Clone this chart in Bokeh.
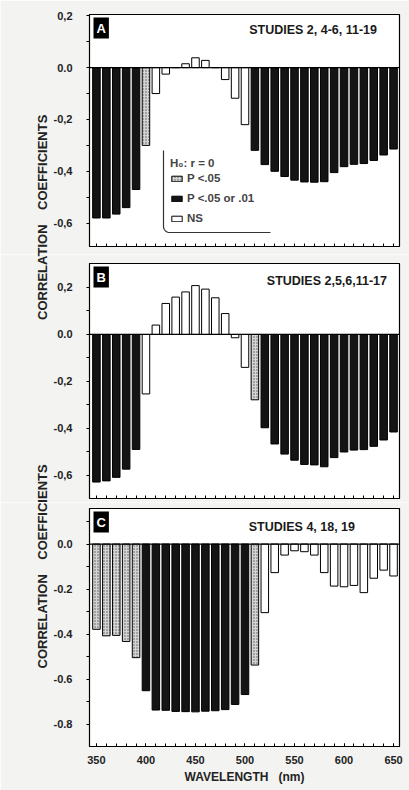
import math
from bokeh.plotting import figure
from bokeh.models import (ColumnDataSource, FixedTicker, Span, Label, Legend,
                          LegendItem, Range1d, Title)
from bokeh.layouts import column
from bokeh.embed import file_html
from bokeh.resources import INLINE

# ---------------- data ----------------
wavelengths = list(range(350, 651, 10))

# significance codes: "P05" = P<.05 (stippled), "P01" = P<.05 or .01 (black), "NS"
corr_a = [-0.58, -0.58, -0.565, -0.54, -0.47, -0.30, -0.10, -0.025, 0.0, 0.015,
          0.038, 0.028, 0.0, -0.046, -0.118, -0.22, -0.319, -0.374, -0.40, -0.42,
          -0.434, -0.441, -0.442, -0.44, -0.405, -0.382, -0.373, -0.37, -0.358,
          -0.337, -0.314]
sig_a = ["P01"] * 5 + ["P05"] + ["NS"] * 10 + ["P01"] * 15

corr_b = [-0.628, -0.623, -0.608, -0.573, -0.489, -0.253, 0.040, 0.132, 0.159,
          0.181, 0.208, 0.193, 0.156, 0.089, -0.014, -0.14, -0.278, -0.397,
          -0.466, -0.509, -0.535, -0.553, -0.555, -0.563, -0.524, -0.50, -0.492,
          -0.49, -0.476, -0.449, -0.415]
sig_b = ["P01"] * 5 + ["NS"] * 11 + ["P05"] + ["P01"] * 14

corr_c = [-0.379, -0.408, -0.406, -0.433, -0.505, -0.652, -0.738, -0.739, -0.744,
          -0.745, -0.746, -0.743, -0.741, -0.736, -0.713, -0.669, -0.538, -0.305,
          -0.127, -0.049, -0.03, -0.034, -0.049, -0.127, -0.187, -0.19, -0.184,
          -0.216, -0.152, -0.116, -0.142]
sig_c = ["P05"] * 5 + ["P01"] * 11 + ["P05"] + ["NS"] * 14

studies = ["STUDIES  2, 4-6, 11-19", "STUDIES  2,5,6,11-17", "STUDIES  4, 18, 19"]
panel_letters = ["A", "B", "C"]
legend_labels = ["P <.05", "P <.05 or .01", "NS"]
legend_title = "H\u2080: r = 0"
x_tick_labels = [350, 400, 450, 500, 550, 600, 650]
ylabel_words = ["CORRELATION", "COEFFICIENTS"]

# ---------------- layout ----------------
W = 409
X0, X1 = 343, 656
LEFT, RIGHT = 89, 10
FONT = "Liberation Sans"
BG = "#f3f3f1"
NB = "\u00a0"
YT_SIZE = 13.0

# Liberation Sans Bold advance widths (em) for the title characters
ADV = {"C": .722, "O": .778, "R": .722, "E": .667, "L": .611, "A": .722, "T": .611,
       "I": .278, "N": .722, "F": .611, "S": .667, NB: .278}


def text_w(s):
    return sum(ADV[ch] for ch in s) * YT_SIZE


ylabel_text = ylabel_words[0] + NB * 4 + ylabel_words[1]
LBL_W = text_w(ylabel_text)
LOWER_START = 668.0                      # page y of the lower title's first letter
GAP_N = 40                               # no-break spaces between the two titles (panel B)
COMBINED = ylabel_text + NB * GAP_N + ylabel_text
UPPER_START = LOWER_START - text_w(ylabel_text + NB * GAP_N)

cfgs = [
    dict(h=254, top=14, bottom=8, y0=-0.69, y1=0.205, off=0,
         major=[-0.6, -0.4, -0.2, 0, 0.2], minor=[-0.5, -0.3, -0.1, 0.1],
         over={0.2: "0,2", 0: "0.0", -0.2: "-0,2", -0.4: "-0,4", -0.6: "-0,6"},
         stud_px=380, stud_py=29, ytitle=(ylabel_text, UPPER_START)),
    dict(h=248, top=9, bottom=4, y0=-0.698, y1=0.302, off=254,
         major=[-0.6, -0.4, -0.2, 0, 0.2], minor=[-0.5, -0.3, -0.1, 0.1],
         over={0.2: "0,2", 0: "0.0", -0.2: "-0,2", -0.4: "-0,4", -0.6: "-0,6"},
         stud_px=390, stud_py=26, ytitle=(COMBINED, LOWER_START)),
    dict(h=288, top=6, bottom=44, y0=-0.9, y1=0.158, off=502,
         major=[-0.8, -0.6, -0.4, -0.2, 0], minor=[-0.7, -0.5, -0.3, -0.1, 0.1],
         over={0: "0.0", -0.2: "-0.2", -0.4: "-0.4", -0.6: "-0.6", -0.8: "-0.8"},
         stud_px=358, stud_py=24, ytitle=(ylabel_text, LOWER_START)),
]


def px_to_data(c, px, py):
    fw = W - LEFT - RIGHT
    fh = c["h"] - c["top"] - c["bottom"]
    x = X0 + (px - LEFT) / fw * (X1 - X0)
    y = c["y1"] - (py - c["top"]) / fh * (c["y1"] - c["y0"])
    return x, y


styles = {
    "P05": dict(fill_color="#d4d4d4", hatch_pattern="dot", hatch_scale=3,
                hatch_color="#555555", hatch_weight=1, line_color="black"),
    "P01": dict(fill_color="#141414", line_color="black"),
    "NS": dict(fill_color="white", line_color="black"),
}

figs = []
datasets = [(corr_a, sig_a), (corr_b, sig_b), (corr_c, sig_c)]
for i, (c, (vals, sigs)) in enumerate(zip(cfgs, datasets)):
    p = figure(width=W, height=c["h"], output_backend="svg", toolbar_location=None,
               x_range=Range1d(X0, X1), y_range=Range1d(c["y0"], c["y1"]),
               min_border_left=LEFT, min_border_right=RIGHT,
               min_border_top=c["top"], min_border_bottom=c["bottom"],
               background_fill_color="white", border_fill_color=BG)
    p.outline_line_color = "black"
    p.outline_line_width = 1.2
    p.xgrid.visible = False
    p.ygrid.visible = False

    rends = {}
    for code in ["P05", "P01", "NS"]:
        xs = [w for w, s in zip(wavelengths, sigs) if s == code]
        ys = [v for v, s in zip(vals, sigs) if s == code]
        src = ColumnDataSource(dict(x=xs, top=ys))
        rends[code] = p.vbar(x="x", top="top", bottom=0, width=7.6, source=src,
                             line_width=1, **styles[code])

    p.add_layout(Span(location=0, dimension="width", line_color="black", line_width=1.3))

    # axes
    yax = p.yaxis[0]
    yax.ticker = FixedTicker(ticks=c["major"], minor_ticks=c["minor"])
    yax.major_label_overrides = c["over"]
    yax.major_tick_in = 0
    yax.major_tick_out = 3
    yax.minor_tick_in = 0
    yax.minor_tick_out = 3
    yax.major_label_standoff = 14
    yax.major_label_text_font = FONT
    yax.major_label_text_font_style = "bold"
    yax.major_label_text_font_size = "11px"
    yax.major_label_text_color = "#222222"
    yax.axis_line_color = "black"

    xax = p.xaxis[0]
    xax.major_tick_in = 3
    xax.major_tick_out = 0
    xax.minor_tick_in = 3
    xax.minor_tick_out = 0
    xax.axis_line_color = "black"
    if i < 2:
        xax.ticker = FixedTicker(ticks=[], minor_ticks=wavelengths)
        xax.major_label_standoff = 0
    else:
        xax.ticker = FixedTicker(ticks=x_tick_labels, minor_ticks=wavelengths)
        xax.major_label_standoff = 9
        xax.major_label_text_font = FONT
        xax.major_label_text_font_style = "bold"
        xax.major_label_text_font_size = "11px"
        xax.major_label_text_color = "#222222"
        xax.axis_label = "WAVELENGTH" + NB * 3 + "(nm)"
        xax.axis_label_text_font = FONT
        xax.axis_label_text_font_style = "bold"
        xax.axis_label_text_font_size = "12px"
        xax.axis_label_text_color = "#222222"
        xax.axis_label_standoff = 3

    # vertical axis title(s); the page-spanning text is split across the panels
    frame_bottom_page = c["off"] + c["h"] - c["bottom"]
    ttext, tstart = c["ytitle"]
    p.add_layout(Title(text=ttext, align="left", vertical_align="middle",
                       offset=frame_bottom_page - tstart, standoff=0,
                       text_font=FONT, text_font_style="bold",
                       text_font_size=f"{YT_SIZE}px", text_color="#222222"), "left")

    # panel letter box
    lx, ly = px_to_data(c, LEFT + 4, c["top"] + 3)
    p.add_layout(Label(x=lx, y=ly, text=panel_letters[i], text_color="white",
                       text_font=FONT, text_font_style="bold", text_font_size="13px",
                       text_align="left", text_baseline="top",
                       background_fill_color="black", padding=3))

    # studies text
    sx, sy = px_to_data(c, c["stud_px"], c["stud_py"])
    p.add_layout(Label(x=sx, y=sy, text=studies[i], text_font=FONT,
                       text_font_style="bold", text_font_size="12.5px",
                       text_color="#1a1a1a", text_align="right",
                       text_baseline="middle"))

    if i == 0:
        items = [LegendItem(label=legend_labels[0], renderers=[rends["P05"]]),
                 LegendItem(label=legend_labels[1], renderers=[rends["P01"]]),
                 LegendItem(label=legend_labels[2], renderers=[rends["NS"]])]
        leg = Legend(items=items, location=(77, 18), title=legend_title,
                     title_text_font=FONT, title_text_font_style="bold",
                     title_text_font_size="11.5px", title_standoff=3,
                     label_text_font=FONT, label_text_font_style="bold",
                     label_text_font_size="11.5px", label_height=12,
                     glyph_width=13, glyph_height=7, label_standoff=4,
                     spacing=8, padding=4, margin=0,
                     background_fill_alpha=0, border_line_alpha=0)
        p.add_layout(leg)
        # L-shaped rounded bracket around the legend
        pts = [(163, 150), (163, 226)]
        for k in range(1, 7):
            t = k / 6 * math.pi / 2
            pts.append((169 - 6 * math.cos(t), 226 + 6 * math.sin(t)))
        pts.append((270, 232))
        dd = [px_to_data(c, a, b) for a, b in pts]
        p.line([d[0] for d in dd], [d[1] for d in dd], line_color="#333333",
               line_width=1.2)

    figs.append(p)

layout = column(*figs, spacing=0)
open("out.html", "w").write(file_html(layout, INLINE))
